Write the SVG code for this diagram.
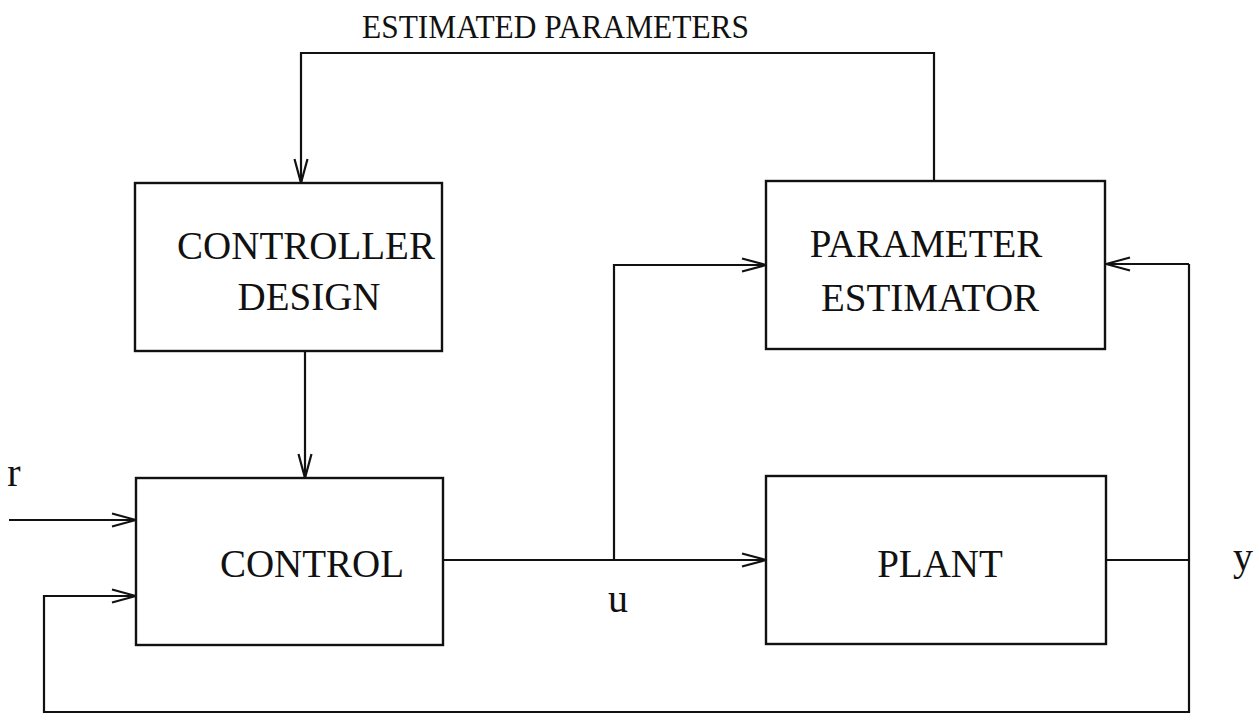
<svg xmlns="http://www.w3.org/2000/svg" width="1259" height="728" viewBox="0 0 1259 728">
  <style>
    .box { fill: none; stroke: #111; stroke-width: 2.4; }
    .wire { fill: none; stroke: #111; stroke-width: 2.2; }
    .lbl { font-family: "Liberation Serif", "Times New Roman", serif; font-size: 39px; fill: #111; text-anchor: middle; }
    .sig { font-family: "Liberation Serif", "Times New Roman", serif; font-size: 40px; fill: #111; text-anchor: middle; }
    .title { font-family: "Liberation Serif", "Times New Roman", serif; font-size: 34px; fill: #111; }
  </style>
  <defs>
    <marker id="arrow" viewBox="0 0 26 16" refX="25" refY="8" markerWidth="26" markerHeight="16" markerUnits="userSpaceOnUse" orient="auto">
      <path d="M1,1.5 L25,8 L1,14.5" fill="none" stroke="#111" stroke-width="2.2"/>
    </marker>
  </defs>
  <rect width="1259" height="728" fill="#fff"/>

  <g id="connectors">
    <!-- reference input r -->
    <path class="wire" d="M9,520 H136" marker-end="url(#arrow)"/>
    <!-- output y fed back to the controller -->
    <path class="wire" d="M1106,560 H1189"/>
    <path class="wire" d="M1189,264 V712 H44 V596 H136" marker-end="url(#arrow)"/>
    <!-- output y into the estimator -->
    <path class="wire" d="M1189,264 H1106" marker-end="url(#arrow)"/>
    <!-- control signal u to the plant -->
    <path class="wire" d="M443,560 H766" marker-end="url(#arrow)"/>
    <!-- u branch into the estimator -->
    <path class="wire" d="M614,560 V265 H766" marker-end="url(#arrow)"/>
    <!-- estimated parameters back to controller design -->
    <path class="wire" d="M934,181 V53 H301 V183" marker-end="url(#arrow)"/>
    <!-- controller design to control -->
    <path class="wire" d="M305,351 V478" marker-end="url(#arrow)"/>
  </g>

  <g id="controller-design">
    <rect class="box" x="135" y="183" width="307" height="168"/>
    <text class="lbl" x="306" y="259">CONTROLLER</text>
    <text class="lbl" x="309" y="310">DESIGN</text>
  </g>

  <g id="parameter-estimator">
    <rect class="box" x="766" y="181" width="339" height="168"/>
    <text class="lbl" x="926" y="257">PARAMETER</text>
    <text class="lbl" x="930" y="311">ESTIMATOR</text>
  </g>

  <g id="control">
    <rect class="box" x="136" y="478" width="307" height="167"/>
    <text class="lbl" x="312" y="577">CONTROL</text>
  </g>

  <g id="plant">
    <rect class="box" x="766" y="476" width="340" height="168"/>
    <text class="lbl" x="940" y="577">PLANT</text>
  </g>

  <text class="title" x="362" y="38" textLength="387" lengthAdjust="spacingAndGlyphs">ESTIMATED PARAMETERS</text>
  <text class="sig" x="14" y="486">r</text>
  <text class="sig" x="618" y="612">u</text>
  <text class="sig" x="1243" y="570">y</text>
</svg>
